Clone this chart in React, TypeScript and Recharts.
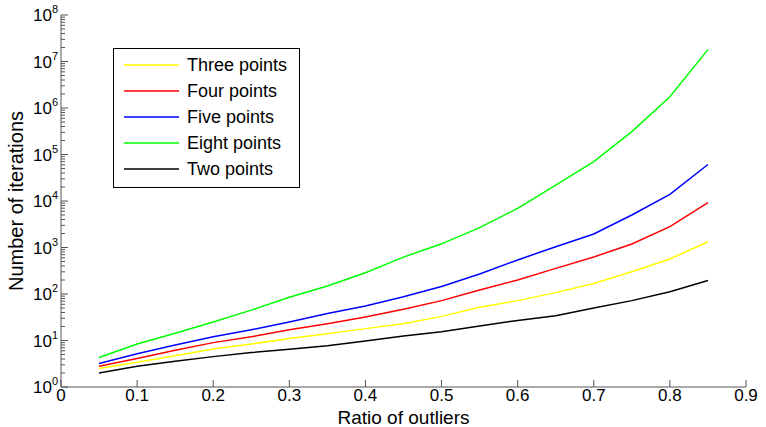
import { Legend, Line, LineChart, XAxis, YAxis } from 'recharts';

// Ratio of outliers vs iterations needed (log scale), one line per sample size.
const ratios = [0.05, 0.1, 0.15, 0.2, 0.25, 0.3, 0.35, 0.4, 0.45, 0.5, 0.55, 0.6, 0.65, 0.7, 0.75, 0.8, 0.85];
const threePoints = [2.5, 3.4, 4.7, 6.6, 8.4, 11, 14, 18, 23, 33, 52, 72, 107, 168, 300, 565, 1330];
const fourPoints = [2.8, 4.1, 6.2, 9.0, 12, 17, 23, 32, 47, 72, 122, 200, 356, 625, 1190, 2800, 9200];
const fivePoints = [3.2, 5.2, 8.0, 12, 17, 25, 38, 55, 87, 145, 270, 540, 1040, 1950, 5000, 13900, 61000];
const eightPoints = [4.3, 8.4, 14.3, 25, 45, 85, 149, 287, 620, 1200, 2680, 6950, 22000, 70000, 310000, 1750000, 18000000];
const twoPoints = [2.0, 2.8, 3.6, 4.5, 5.5, 6.5, 7.7, 9.7, 12.5, 15.5, 20.5, 27, 34, 50, 72, 112, 195];

const xTicks = [0, 0.1, 0.2, 0.3, 0.4, 0.5, 0.6, 0.7, 0.8, 0.9];
const decades = [0, 1, 2, 3, 4, 5, 6, 7];
const yTicks = [...decades.flatMap((d) => [1, 2, 3, 4, 5, 6, 7, 8, 9].map((m) => m * 10 ** d)), 1e8];

const series = [
  { key: 'three', name: 'Three points', color: '#ffff00' },
  { key: 'four', name: 'Four points', color: '#ff0000' },
  { key: 'five', name: 'Five points', color: '#0000ff' },
  { key: 'eight', name: 'Eight points', color: '#00ff00' },
  { key: 'two', name: 'Two points', color: '#000000' },
];

const data = ratios.map((x, i) => ({
  x,
  three: threePoints[i],
  four: fourPoints[i],
  five: fivePoints[i],
  eight: eightPoints[i],
  two: twoPoints[i],
}));

const FONT = '"Liberation Sans", Arial, Helvetica, sans-serif';
const AXIS = '#555';

const YTick = (props: any) => {
  const { x, y, payload } = props;
  const lg = Math.log10(payload.value);
  const e = Math.round(lg);
  const major = Math.abs(lg - e) < 1e-6;
  const ax = x + 4; // tickMargin
  return (
    <g>
      <line x1={ax} x2={ax + (major ? 7 : 4)} y1={y} y2={y} stroke={AXIS} strokeWidth={1} />
      {major && (
        <text x={ax - 3} y={y + 6} textAnchor="end" fontFamily={FONT} fontSize={17} fill="#000">
          <tspan>10</tspan>
          <tspan dy={-8} fontSize={11}>{e}</tspan>
        </text>
      )}
    </g>
  );
};

const XTick = (props: any) => {
  const { x, y, payload } = props;
  return (
    <g>
      <line x1={x} x2={x} y1={y} y2={y - 7} stroke={AXIS} strokeWidth={1} />
      <text x={x} y={y + 14} textAnchor="middle" fontFamily={FONT} fontSize={17} fill="#000">
        {payload.value === 0 ? '0' : payload.value.toFixed(1)}
      </text>
    </g>
  );
};

const LegendBox = () => (
  <div
    style={{
      border: '1px solid #000',
      background: '#fff',
      width: 185,
      height: 135,
      boxSizing: 'content-box',
      paddingTop: 3,
      fontFamily: FONT,
      fontSize: 18,
    }}
  >
    {series.map((s) => (
      <div key={s.key} style={{ position: 'relative', height: 26, lineHeight: '26px' }}>
        <svg width={70} height={26} style={{ position: 'absolute', left: 0, top: 0 }}>
          <line x1={10} x2={65} y1={13} y2={13} stroke={s.color} strokeWidth={1.5} />
        </svg>
        <span style={{ position: 'absolute', left: 73, top: 0, color: '#000' }}>{s.name}</span>
      </div>
    ))}
  </div>
);

export default function App() {
  return (
    <div style={{ position: 'absolute', left: 0, top: 0, background: '#fff' }}>
      <LineChart width={766} height={427} data={data} margin={{ top: 15, right: 20, bottom: 0, left: 0 }}>
        <XAxis
          dataKey="x"
          type="number"
          domain={[0, 0.9]}
          ticks={xTicks}
          interval={0}
          tick={<XTick />}
          tickSize={0}
          tickMargin={0}
          tickLine={false}
          axisLine={{ stroke: AXIS }}
          height={40}
          label={{ value: 'Ratio of outliers', position: 'insideBottom', offset: 3, fill: '#000', fontSize: 19, fontFamily: FONT }}
        />
        <YAxis
          scale="log"
          domain={[1, 1e8]}
          ticks={yTicks}
          interval={0}
          tick={<YTick />}
          tickSize={0}
          tickMargin={4}
          tickLine={false}
          axisLine={{ stroke: AXIS }}
          width={61}
          allowDataOverflow
          label={{
            value: 'Number of iterations',
            angle: -90,
            position: 'insideLeft',
            offset: 16,
            style: { textAnchor: 'middle' },
            fill: '#000',
            fontSize: 20,
            fontFamily: FONT,
          }}
        />
        <Legend
          layout="horizontal"
          verticalAlign="middle"
          align="center"
          content={<LegendBox />}
          wrapperStyle={{ left: 113, top: 48, width: 187, height: 139 }}
        />
        {series.map((s) => (
          <Line
            key={s.key}
            type="linear"
            dataKey={s.key}
            name={s.name}
            stroke={s.color}
            strokeWidth={1.5}
            dot={false}
            isAnimationActive={false}
          />
        ))}
      </LineChart>
    </div>
  );
}
